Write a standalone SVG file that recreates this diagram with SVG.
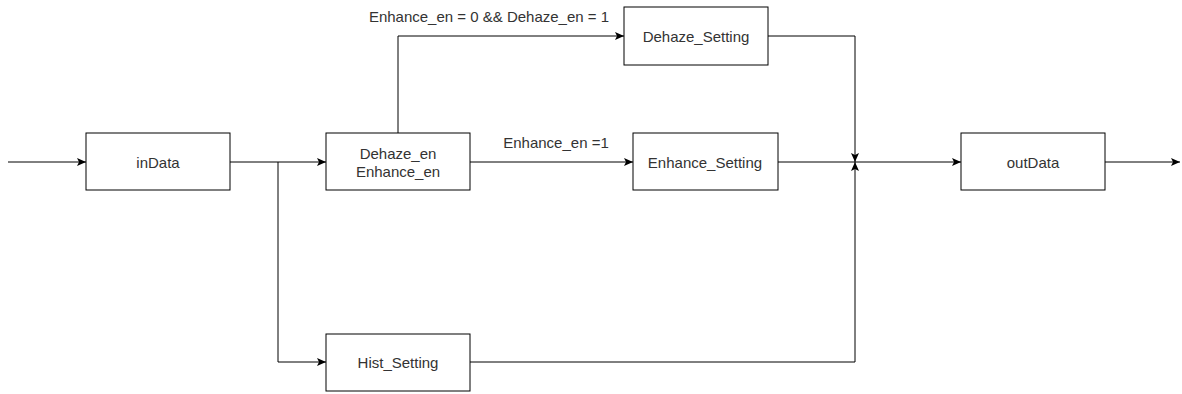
<svg xmlns="http://www.w3.org/2000/svg" width="1182" height="394" viewBox="0 0 1182 394">
<style>
.box{fill:#fff;stroke:#000;stroke-width:1}
.t{font-family:"Liberation Sans",Arial,sans-serif;font-size:15px;fill:#333;text-anchor:middle;dominant-baseline:central}
.e{fill:none;stroke:#000;stroke-width:1}
</style>
<defs>
<marker id="a" markerWidth="10" markerHeight="8" refX="9" refY="4" orient="auto" markerUnits="userSpaceOnUse">
<path d="M0,0 L9,4 L0,8 L2,4 Z" fill="#000"/>
</marker>
</defs>
<rect width="1182" height="394" fill="#fff"/>
<g id="connectors">
<path class="e" d="M8,162 H86" marker-end="url(#a)"/>
<path class="e" d="M230,162 H326" marker-end="url(#a)"/>
<path class="e" d="M278,162 V362 H326" marker-end="url(#a)"/>
<path class="e" d="M398,133 V36 H624" marker-end="url(#a)"/>
<path class="e" d="M470,162 H633" marker-end="url(#a)"/>
<path class="e" d="M768,36 H855 V162" marker-end="url(#a)"/>
<path class="e" d="M470,362 H855 V162" marker-end="url(#a)"/>
<path class="e" d="M778,162 H961" marker-end="url(#a)"/>
<path class="e" d="M1105,162 H1180" marker-end="url(#a)"/>
<text class="t" x="489" y="16">Enhance_en = 0 &amp;&amp; Dehaze_en = 1</text>
<text class="t" x="556" y="142">Enhance_en =1</text>
</g>
<g id="inData"><rect class="box" x="86" y="133" width="144" height="57"/><text class="t" x="158" y="162">inData</text></g>
<g id="enable"><rect class="box" x="326" y="133" width="144" height="57"/><text class="t" x="398" y="153">Dehaze_en</text><text class="t" x="398" y="171">Enhance_en</text></g>
<g id="dehaze"><rect class="box" x="624" y="7" width="144" height="58"/><text class="t" x="696" y="36">Dehaze_Setting</text></g>
<g id="enhance"><rect class="box" x="633" y="133" width="145" height="57"/><text class="t" x="705" y="162">Enhance_Setting</text></g>
<g id="hist"><rect class="box" x="326" y="334" width="144" height="57"/><text class="t" x="398" y="362">Hist_Setting</text></g>
<g id="outData"><rect class="box" x="961" y="133" width="144" height="57"/><text class="t" x="1033" y="162">outData</text></g>
</svg>
